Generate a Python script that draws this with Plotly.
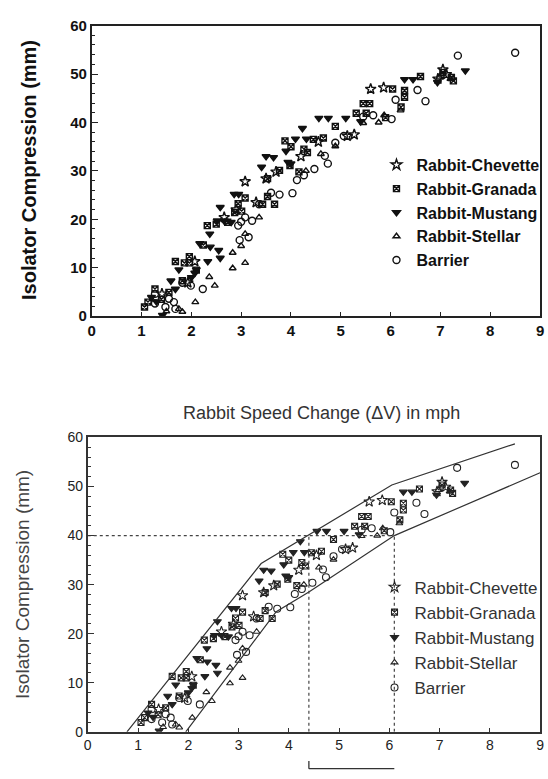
import plotly.graph_objects as go

# ---------------- data ----------------
chevette_x = [1.41, 1.93, 2.07, 2.66, 3.08, 3.5, 3.7, 4.2, 4.55, 5.13, 5.27, 5.6, 5.86, 7.05, 7.12, 6.95, 3.3, 2.9]
chevette_y = [4.6, 6.9, 11.3, 20.4, 27.8, 28.4, 29.8, 33.0, 36.0, 37.2, 37.5, 46.9, 47.2, 50.9, 49.9, 49.0, 23.5, 22.0]

granada_x = [1.06, 1.13, 1.27, 1.55, 1.68, 1.82, 1.86, 1.96, 1.96, 2.24, 2.32, 2.73, 2.87, 2.94, 3.01, 3.08,
             3.43, 3.53, 3.53, 3.67, 3.77, 3.88, 3.98, 4.16, 4.26, 4.33, 4.45, 4.65, 4.89, 5.31, 5.45, 5.51,
             5.58, 6.04, 6.21, 6.28, 6.28, 7.05, 7.22, 7.26, 2.1, 2.5, 1.4, 5.9, 6.6, 4.0]
granada_y = [1.9, 2.9, 5.6, 4.9, 11.3, 7.3, 11.0, 12.3, 11.0, 14.7, 18.7, 19.4, 21.4, 23.2, 21.7, 24.4,
             23.1, 24.7, 28.4, 23.1, 30.1, 36.2, 31.1, 29.8, 34.5, 33.8, 36.5, 36.8, 39.2, 41.9, 43.9, 41.9,
             43.9, 46.9, 43.2, 46.6, 45.2, 50.3, 49.3, 48.6, 9.5, 19.0, 3.5, 41.0, 49.5, 35.0]

mustang_x = [1.2, 1.42, 1.59, 1.68, 1.75, 2.07, 2.1, 2.17, 2.33, 2.37, 2.38, 2.52, 2.55, 2.58, 2.58, 2.66,
             2.8, 2.86, 2.95, 3.41, 3.5, 3.65, 3.9, 3.94, 4.09, 4.23, 4.31, 4.56, 4.75, 5.1, 5.4, 6.28,
             6.45, 6.94, 7.5, 1.3, 2.0, 4.0]
mustang_y = [3.9, 0.2, 7.3, 5.6, 9.6, 8.9, 9.6, 15.0, 11.3, 17.0, 14.3, 19.7, 13.6, 22.5, 12.0, 19.7,
             19.4, 25.2, 25.2, 30.8, 33.0, 32.8, 34.1, 31.8, 36.6, 38.8, 36.6, 40.9, 40.9, 40.9, 40.2, 48.9,
             48.9, 48.3, 50.7, 3.0, 8.0, 31.5]

stellar_x = [1.75, 1.82, 2.08, 2.36, 2.47, 2.83, 2.83, 3.08, 3.08, 3.36, 4.89, 5.45, 5.76, 5.87, 6.98,
             1.5, 3.0, 4.3, 4.6, 6.2, 7.2]
stellar_y = [1.5, 0.9, 2.9, 8.1, 6.3, 9.9, 13.1, 11.0, 17.0, 20.4, 35.1, 39.9, 40.0, 41.5, 49.3,
             1.0, 14.5, 30.0, 33.5, 42.5, 49.0]

barrier_x = [1.27, 1.27, 1.48, 1.55, 1.65, 1.68, 1.82, 1.99, 2.23, 2.94, 2.97, 3.08, 3.15, 3.22, 3.36, 3.77,
             4.03, 4.12, 4.26, 4.47, 4.68, 4.74, 4.89, 5.06, 5.45, 5.65, 6.02, 6.1, 6.54, 6.7, 7.35, 8.5,
             3.0, 3.6]
barrier_y = [2.6, 4.6, 1.9, 3.6, 2.9, 1.5, 6.9, 6.3, 5.6, 18.7, 15.7, 20.4, 16.3, 19.7, 23.1, 25.1,
             25.4, 28.1, 29.1, 30.4, 33.1, 31.5, 35.8, 37.2, 41.2, 41.5, 40.7, 44.7, 46.7, 44.4, 53.8, 54.4,
             19.5, 25.5]

# envelope of the lower panel
upper_x = [0.78, 3.45, 6.05, 8.5]
upper_y = [0.0, 34.3, 50.3, 58.7]
lower_x = [1.95, 3.75, 4.4, 6.1, 9.0]
lower_y = [0.0, 24.5, 28.5, 40.0, 52.8]

# reference lines
ref_compression = 40
ref_dv_low = 4.4
ref_dv_high = 6.1

series_names = ["Rabbit-Chevette", "Rabbit-Granada", "Rabbit-Mustang", "Rabbit-Stellar", "Barrier"]
series_x = [chevette_x, granada_x, mustang_x, stellar_x, barrier_x]
series_y = [chevette_y, granada_y, mustang_y, stellar_y, barrier_y]
series_symbols = ["star-open", "square-x-open", "triangle-down", "triangle-up-open", "circle-open"]
series_sizes = [8, 6, 7, 6, 7]

x_ticks = [0, 1, 2, 3, 4, 5, 6, 7, 8, 9]
y_ticks = [0, 10, 20, 30, 40, 50, 60]

W, H = 548, 779

fig = go.Figure()

for name, xs, ys, sym, sz in zip(series_names, series_x, series_y, series_symbols, series_sizes):
    fig.add_trace(go.Scatter(
        x=xs, y=ys, mode="markers", name=name, xaxis="x", yaxis="y", legend="legend",
        marker=dict(symbol=sym, size=sz, color="#111111", line=dict(color="#111111", width=1.4)),
    ))

for name, xs, ys, sym, sz in zip(series_names, series_x, series_y, series_symbols, series_sizes):
    fig.add_trace(go.Scatter(
        x=xs, y=ys, mode="markers", name=name, xaxis="x2", yaxis="y2", legend="legend2",
        marker=dict(symbol=sym, size=sz, color="#222222", line=dict(color="#222222", width=1.1)),
    ))

# envelope lines
fig.add_trace(go.Scatter(x=upper_x, y=upper_y, mode="lines", xaxis="x2", yaxis="y2",
                         line=dict(color="#333333", width=1.2), showlegend=False, hoverinfo="skip"))
fig.add_trace(go.Scatter(x=lower_x, y=lower_y, mode="lines", xaxis="x2", yaxis="y2",
                         line=dict(color="#333333", width=1.2), showlegend=False, hoverinfo="skip"))

# dotted reference lines
fig.add_trace(go.Scatter(x=[0, ref_dv_high], y=[ref_compression, ref_compression], mode="lines",
                         xaxis="x2", yaxis="y2", line=dict(color="#444444", width=1.2, dash="dot"),
                         showlegend=False, hoverinfo="skip"))
for xv in [ref_dv_low, ref_dv_high]:
    fig.add_trace(go.Scatter(x=[xv, xv], y=[0, ref_compression], mode="lines",
                             xaxis="x2", yaxis="y2", line=dict(color="#444444", width=1.2, dash="dot"),
                             showlegend=False, hoverinfo="skip"))

# bracket below the lower panel
fig.add_shape(type="line", xref="x2", yref="paper", x0=ref_dv_low, x1=ref_dv_high, y0=0.003, y1=0.003,
              line=dict(color="#333333", width=1.3))
fig.add_shape(type="line", xref="x2", yref="paper", x0=ref_dv_low, x1=ref_dv_low, y0=0.003, y1=0.013,
              line=dict(color="#333333", width=1.3))

top_font = dict(family="Liberation Sans", size=15, color="#111111", weight="bold")
bot_font = dict(family="Liberation Sans", size=14, color="#222222")

def xaxis_common(font, domain, anchor, col):
    return dict(domain=domain, anchor=anchor, range=[0, 9], tickvals=x_ticks, ticktext=[str(v) for v in x_ticks],
                showgrid=False, zeroline=False, showline=True, linecolor=col, linewidth=1.6, mirror=True,
                ticks="inside", ticklen=4, tickcolor=col, tickfont=font, ticklabeloverflow="allow")

def yaxis_common(font, domain, anchor, col):
    return dict(domain=domain, anchor=anchor, range=[0, 60], tickvals=y_ticks, ticktext=[str(v) for v in y_ticks],
                showgrid=False, zeroline=False, showline=True, linecolor=col, linewidth=1.6, mirror=True,
                ticks="inside", ticklen=6, tickcolor=col, tickfont=font, ticklabeloverflow="allow",
                minor=dict(dtick=2, ticks="inside", ticklen=3, tickcolor=col, showgrid=False))

fig.update_layout(
    width=W, height=H,
    margin=dict(l=0, r=0, t=0, b=0),
    paper_bgcolor="white", plot_bgcolor="white",
    xaxis=xaxis_common(top_font, [89 / W, 544 / W], "y", "#222222"),
    yaxis=yaxis_common(top_font, [1 - 314 / H, 1 - 17 / H], "x", "#222222"),
    xaxis2=xaxis_common(bot_font, [85 / W, 544 / W], "y2", "#333333"),
    yaxis2=yaxis_common(bot_font, [1 - 739 / H, 1 - 438 / H], "x2", "#333333"),
    legend=dict(x=378 / W, y=1 - 142 / H, xanchor="left", yanchor="top", bgcolor="rgba(0,0,0,0)",
                font=dict(family="Liberation Sans", size=16, color="#111111", weight="bold")),
    legend2=dict(x=376 / W, y=1 - 573 / H, xanchor="left", yanchor="top", bgcolor="rgba(0,0,0,0)",
                 font=dict(family="Liberation Sans", size=17, color="#333333")),
    annotations=[
        dict(text="Isolator Compression (mm)", textangle=-90, xref="paper", yref="paper",
             x=26 / W, y=1 - 165 / H, xanchor="center", yanchor="middle", showarrow=False,
             font=dict(family="Liberation Sans", size=20, color="#111111", weight="bold")),
        dict(text="Isolator Compression (mm)", textangle=-90, xref="paper", yref="paper",
             x=18 / W, y=1 - 588 / H, xanchor="center", yanchor="middle", showarrow=False,
             font=dict(family="Liberation Sans", size=19, color="#444444")),
        dict(text="Rabbit Speed Change (\u0394V) in mph", xref="paper", yref="paper",
             x=322 / W, y=1 - 413 / H, xanchor="center", yanchor="middle", showarrow=False,
             font=dict(family="Liberation Sans", size=18, color="#333333")),
    ],
)

fig.write_html("out.html", config={"displayModeBar": False},
               post_script="document.body.style.margin='0';document.body.style.overflow='hidden';")
